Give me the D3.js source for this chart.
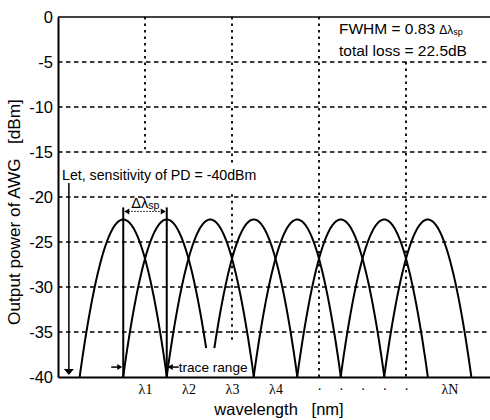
<!DOCTYPE html>
<html>
<head>
<meta charset="utf-8">
<script src="https://cdn.jsdelivr.net/npm/d3@7"></script>
<style>
  html, body { margin: 0; padding: 0; background: #fff; }
  svg { display: block; font-family: "Liberation Sans", Arial, Helvetica, sans-serif; }
</style>
</head>
<body>
<svg id="chart" width="490" height="420"></svg>
<script>
// ---- data -------------------------------------------------------------
// Channel centre wavelengths, in grid units (channel spacing = 0.5 unit)
const channelCenters = [0.75, 1.25, 1.75, 2.25, 2.75, 3.25, 3.75, 4.25];
// Peak output power of each channel [dBm] (total loss = 22.5 dB)
const peakPower = [-22.5, -22.5, -22.5, -22.5, -22.5, -22.5, -22.5, -22.5];
// Lowest traced level on the left / right flank of each channel [dBm]
const leftFloor  = [-40, -40, -40, -36.8, -40, -40, -40, -40];
const rightFloor = [-40, -36.8, -40, -40, -40, -40, -40, -40];

const channelSpacing = 0.5;   // Δλsp in grid units
const fwhmRatio = 0.83;       // FWHM = 0.83 Δλsp
const sensitivity = -40;      // PD sensitivity [dBm]

// Axis ticks
const yTicks = [0, -5, -10, -15, -20, -25, -30, -35, -40];
const yGridLevels = [-5, -10, -15, -20, -25, -30, -35];
const xTickValues = [1, 1.5, 2, 2.5, 3, 3.25, 3.5, 3.75, 4, 4.5];
const xTickLabels = ["λ1", "λ2", "λ3", "λ4", "·", "·", "·", "·", "·", "λN"];

// Vertical grid lines and the dB ranges where they are drawn
const xGridValues = [1, 2, 3, 4];
const xGridSpans = [
  [[0, -14.7]],
  [[0, -16.3], [-19.7, -36.3]],
  [[0, -40]],
  [[-5, -40]]
];

// ---- scales -----------------------------------------------------------
const svg = d3.select("#chart");
const x = d3.scaleLinear().domain([0, 5]).range([58, 493]);
const y = d3.scaleLinear().domain([-40, 0]).range([377, 17]);

// ---- grid -------------------------------------------------------------
const grid = svg.append("g");
grid.selectAll("line.h").data(yGridLevels).join("line")
  .attr("class", "h")
  .attr("x1", x(0)).attr("x2", x(5))
  .attr("y1", d => y(d)).attr("y2", d => y(d))
  .attr("stroke", "#000").attr("stroke-width", 1.3)
  .attr("stroke-dasharray", "4.5,3.5");

const vSegs = xGridValues.flatMap((v, i) => xGridSpans[i].map(s => ({ v, top: s[0], bot: s[1] })));
grid.selectAll("line.v").data(vSegs).join("line")
  .attr("class", "v")
  .attr("x1", d => x(d.v)).attr("x2", d => x(d.v))
  .attr("y1", d => y(d.top)).attr("y2", d => y(d.bot))
  .attr("stroke", "#000").attr("stroke-width", 1.8)
  .attr("stroke-dasharray", "2.5,4");

// top frame line
svg.append("line")
  .attr("x1", x(0)).attr("x2", x(5))
  .attr("y1", y(0)).attr("y2", y(0))
  .attr("stroke", "#000").attr("stroke-width", 1.6);

// ---- axes -------------------------------------------------------------
const yAxis = d3.axisLeft(y).tickValues(yTicks).tickSize(0).tickPadding(5)
  .tickFormat(d => String(d));
const gy = svg.append("g").attr("transform", `translate(${x(0)},0)`).call(yAxis);
gy.select(".domain").attr("stroke", "#000").attr("stroke-width", 2);
gy.selectAll("text").attr("font-family", "Liberation Sans, Arial, sans-serif")
  .attr("font-size", 16.5).attr("fill", "#000");

const xAxis = d3.axisBottom(x).tickValues(xTickValues).tickSize(0).tickPadding(7)
  .tickFormat((d, i) => xTickLabels[i]);
const gx = svg.append("g").attr("transform", `translate(0,${y(-40)})`).call(xAxis);
gx.select(".domain").attr("stroke", "#000").attr("stroke-width", 2);
gx.selectAll("text").attr("font-family", "Liberation Serif, Times New Roman, serif")
  .attr("font-size", 14).attr("fill", "#000");

// axis titles
svg.append("text")
  .attr("x", 279).attr("y", 415)
  .attr("text-anchor", "middle")
  .attr("font-size", 16.5)
  .style("white-space", "pre")
  .text("wavelength   [nm]");

svg.append("text")
  .attr("transform", "translate(20,212) rotate(-90)")
  .attr("text-anchor", "middle")
  .attr("font-size", 17.2)
  .style("white-space", "pre")
  .text("Output power of AWG   [dBm]");

// ---- channel responses (Gaussian passbands, parabolic in dB) ----------
const hwhm = fwhmRatio * channelSpacing / 2;
const power = (c, p, v) => p - 3 * ((v - c) / hwhm) ** 2;
const reach = (p, floor) => hwhm * Math.sqrt((p - floor) / 3);

const line = d3.line().x(d => x(d[0])).y(d => y(d[1]));
const curves = channelCenters.map((c, i) => {
  const a = c - reach(peakPower[i], leftFloor[i]);
  const b = c + reach(peakPower[i], rightFloor[i]);
  return d3.range(0, 201).map(k => {
    const v = a + (b - a) * k / 200;
    return [v, power(c, peakPower[i], v)];
  });
});
svg.append("g").selectAll("path").data(curves).join("path")
  .attr("d", line)
  .attr("fill", "none").attr("stroke", "#000").attr("stroke-width", 2);

// ---- annotations ------------------------------------------------------
function arrowHead(g, tipX, tipY, dir, len, half) {
  // dir: "l", "r", "d"
  let pts;
  if (dir === "r") pts = [[tipX, tipY], [tipX - len, tipY - half], [tipX - len, tipY + half]];
  else if (dir === "l") pts = [[tipX, tipY], [tipX + len, tipY - half], [tipX + len, tipY + half]];
  else pts = [[tipX, tipY], [tipX - half, tipY - len], [tipX + half, tipY - len]];
  g.append("path").attr("d", "M" + pts.join("L") + "Z").attr("fill", "#000");
}
const ann = svg.append("g");

// channel-spacing markers on the first two channels
const arrowLevel = -21.6;
channelCenters.slice(0, 2).forEach(c => {
  ann.append("line")
    .attr("x1", x(c)).attr("x2", x(c))
    .attr("y1", y(arrowLevel) - 4).attr("y2", y(-40))
    .attr("stroke", "#000").attr("stroke-width", 2);
});
const c0 = x(channelCenters[0]), c1 = x(channelCenters[1]);
ann.append("line")
  .attr("x1", c0 + 5).attr("x2", c1 - 5)
  .attr("y1", y(arrowLevel)).attr("y2", y(arrowLevel))
  .attr("stroke", "#000").attr("stroke-width", 1).attr("stroke-dasharray", "1.5,1.5");
arrowHead(ann, c0 + 1, y(arrowLevel), "l", 5, 3);
arrowHead(ann, c1 - 1, y(arrowLevel), "r", 5, 3);
const dl = ann.append("text").attr("x", c0 + 8).attr("y", y(arrowLevel) - 3)
  .attr("font-size", 14.5);
dl.append("tspan").text("Δλ");
dl.append("tspan").attr("font-size", 10.5).attr("dy", 1).text("sp");

// PD sensitivity arrow
const sensX = x(0.125);
ann.append("text").attr("x", 62).attr("y", 179.5).attr("font-size", 14.2)
  .text("Let, sensitivity of PD = -40dBm");
ann.append("line")
  .attr("x1", sensX).attr("x2", sensX)
  .attr("y1", 183).attr("y2", y(sensitivity) - 6)
  .attr("stroke", "#000").attr("stroke-width", 1.5);
arrowHead(ann, sensX, y(sensitivity) - 2, "d", 6, 5);

// trace range arrows
const trLevel = -38.9;
ann.append("line").attr("x1", c0 - 12).attr("x2", c0 - 4)
  .attr("y1", y(trLevel)).attr("y2", y(trLevel))
  .attr("stroke", "#000").attr("stroke-width", 1.5);
arrowHead(ann, c0 - 1, y(trLevel), "r", 5, 3);
ann.append("line").attr("x1", c1 + 4).attr("x2", c1 + 12)
  .attr("y1", y(trLevel)).attr("y2", y(trLevel))
  .attr("stroke", "#000").attr("stroke-width", 1.5);
arrowHead(ann, c1 + 1, y(trLevel), "l", 5, 3);
ann.append("text").attr("x", c1 + 12).attr("y", y(trLevel) + 4.5)
  .attr("font-size", 13.6).text("trace range");

// passband parameters
const info = ann.append("text").attr("x", 339).attr("y", 34).attr("font-size", 15.5);
info.append("tspan").style("white-space", "pre").text("FWHM = " + fwhmRatio.toFixed(2) + " ");
info.append("tspan").attr("font-size", 12).text("Δλ");
info.append("tspan").attr("font-size", 9).attr("dy", 1).text("sp");
ann.append("text").attr("x", 339).attr("y", 56).attr("font-size", 15.5)
  .text("total loss = " + (-peakPower[0]).toFixed(1) + "dB");
</script>
</body>
</html>
